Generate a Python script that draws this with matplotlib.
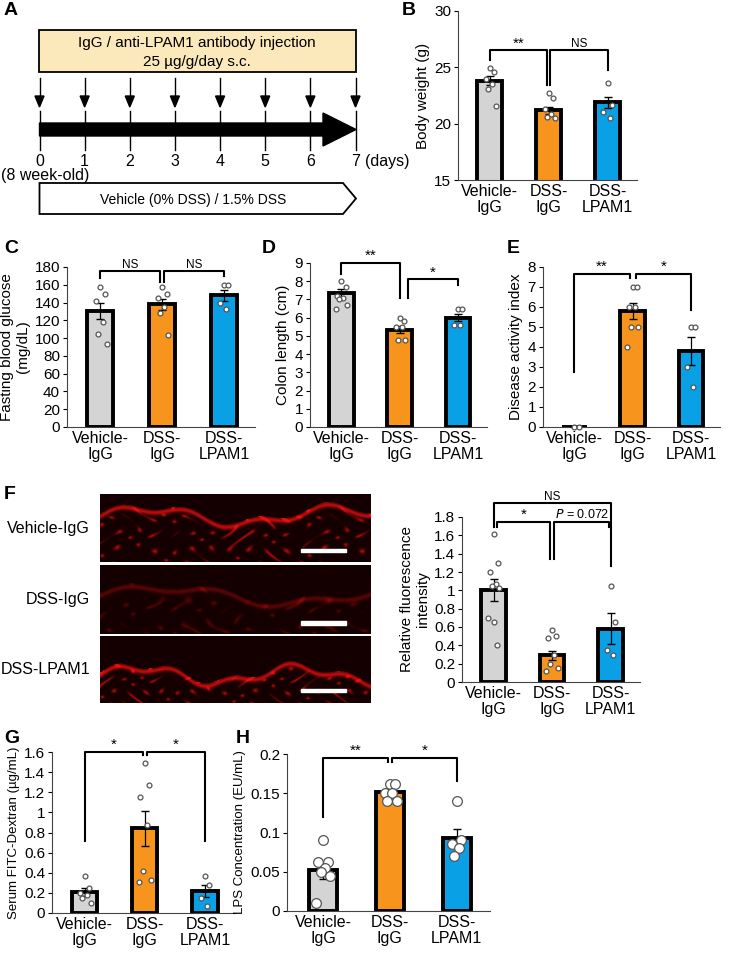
import numpy as np
import matplotlib
matplotlib.use("Agg")
import matplotlib.pyplot as plt
from matplotlib.patches import Polygon, Rectangle

plt.rcParams["font.family"] = "Liberation Sans"
W, H = 738, 958
fig = plt.figure(figsize=(W/100, H/100), dpi=100)

groups = ["Vehicle-\nIgG", "DSS-\nIgG", "DSS-\nLPAM1"]
colors = ["#d4d4d4", "#f7941d", "#0aa0e6"]

# data
bw_mean = [23.8, 21.2, 21.9]; bw_err = [0.4, 0.3, 0.5]
bw_pts = [[24.9, 24.6, 24.0, 23.5, 23.1, 21.6], [22.7, 22.3, 21.3, 20.9, 20.6, 20.5], [23.6, 21.7, 21.0, 20.5]]
glu_mean = [131, 138, 148]; glu_err = [9, 6, 6]
glu_pts = [[157, 150, 142, 118, 105, 93], [157, 150, 145, 135, 128, 103], [160, 160, 140, 133]]
col_mean = [7.35, 5.35, 6.0]; col_err = [0.2, 0.2, 0.2]
col_pts = [[8.0, 7.7, 7.2, 7.1, 7.0, 6.7, 6.5], [6.0, 5.8, 5.5, 5.5, 4.8, 4.8], [6.5, 6.5, 5.6, 5.6]]
dai_mean = [0, 5.8, 3.8]; dai_err = [0, 0.4, 0.7]
dai_pts = [[0, 0], [7, 7, 6, 6, 5, 5, 4], [5, 5, 3, 2]]
fl_mean = [1.0, 0.29, 0.58]; fl_err = [0.12, 0.05, 0.17]
fl_pts = [[1.62, 1.3, 1.2, 1.07, 1.05, 1.03, 0.7, 0.65, 0.4], [0.57, 0.5, 0.48, 0.3, 0.2, 0.15, 0.12], [1.05, 0.65, 0.35, 0.3]]
fitc_mean = [0.21, 0.84, 0.22]; fitc_err = [0.04, 0.17, 0.06]
fitc_pts = [[0.37, 0.25, 0.2, 0.18, 0.15, 0.1], [1.49, 1.27, 1.15, 0.87, 0.42, 0.33, 0.31], [0.37, 0.28, 0.15, 0.07]]
lps_mean = [0.052, 0.151, 0.093]; lps_err = [0.011, 0.003, 0.011]
lps_pts = [[0.09, 0.062, 0.062, 0.055, 0.05, 0.045, 0.01], [0.162, 0.162, 0.15, 0.15, 0.14, 0.14], [0.14, 0.09, 0.085, 0.08, 0.07]]
days = [0, 1, 2, 3, 4, 5, 6, 7]

def ax_px(l, t, r, b):
    return fig.add_axes([l/W, 1-b/H, (r-l)/W, (b-t)/H])

def letter(x, y, s):
    fig.text(x/W, 1-y/H, s, fontsize=14, fontweight="bold", va="top", ha="left")

offs = [0, 0.07, -0.07, 0.035, -0.035, 0.1, -0.1, 0.0, 0.05]

def barplot(ax, mean, err, pts, ylim, ticks, ylabel, ms=3.5, tl=None, ylfs=11):
    x = np.arange(3)
    ax.bar(x, mean, width=0.42, color=colors, edgecolor="black", linewidth=2.8, zorder=2)
    ax.errorbar(x, mean, yerr=err, fmt="none", ecolor="black", elinewidth=0.9, capsize=3, zorder=3)
    for i, p in enumerate(pts):
        ax.plot([i + offs[j % len(offs)] for j in range(len(p))], p, "o", ms=ms, mfc="white",
                mec="#555555", mew=0.9, zorder=4, clip_on=False)
    ax.set_ylim(*ylim); ax.set_xlim(-0.54, 2.5)
    ax.set_yticks(ticks)
    if tl: ax.set_yticklabels(tl)
    ax.set_xticks(x); ax.set_xticklabels(groups, fontsize=11.5, linespacing=1.05)
    ax.set_ylabel(ylabel, fontsize=ylfs, labelpad=3)
    for s in ["top", "right"]: ax.spines[s].set_visible(False)
    ax.spines["left"].set_color("#444444"); ax.spines["bottom"].set_color("#444444")
    ax.tick_params(axis="x", length=0, pad=3)
    ax.tick_params(axis="y", labelsize=11, length=3, pad=2)

def bracket(ax, x1, x2, y, l1, l2, txt, fs=11):
    ax.plot([x1, x1, x2, x2], [l1, y, y, l2], color="black", lw=1.5, clip_on=False, zorder=5)
    if txt:
        ax.text((x1+x2)/2, y, txt, ha="center", va="bottom", fontsize=fs, clip_on=False)

# ---- A ----
letter(4, 2, "A")
axA = fig.add_axes([0, 0, 1, 1]); axA.set_xlim(0, W); axA.set_ylim(H, 0); axA.axis("off")
axA.add_patch(Rectangle((39, 30), 317, 42, facecolor="#fbe8bb", edgecolor="black", lw=1.3))
axA.text(197, 43, "IgG / anti-LPAM1 antibody injection", ha="center", va="center", fontsize=11)
axA.text(197, 62, "25 µg/g/day s.c.", ha="center", va="center", fontsize=11)
x0, dx = 39.5, (355.5 - 39.5) / 7
for d in days:
    xx = x0 + d*dx
    axA.plot([xx, xx], [78, 97], color="black", lw=1)
    axA.add_patch(Polygon([[xx-4.5, 96], [xx+4.5, 96], [xx, 107]], closed=True, color="black"))
    axA.plot([xx, xx], [111, 150], color="black", lw=1)
    axA.text(xx, 161, str(d), ha="center", va="center", fontsize=11.5)
axA.text(x0 + 7*dx + 9, 161, "(days)", ha="left", va="center", fontsize=11.5)
axA.text(1, 175, "(8 week-old)", ha="left", va="center", fontsize=11.5)
axA.add_patch(Polygon([[39.5, 123], [323, 123], [323, 113], [356, 129.5], [323, 146], [323, 136], [39.5, 136]], closed=True, color="black"))
axA.add_patch(Polygon([[39.5, 183], [343, 183], [356, 198.5], [343, 214], [39.5, 214]], closed=True, facecolor="white", edgecolor="black", lw=1.3))
axA.text(193, 200, "Vehicle (0% DSS) / 1.5% DSS", ha="center", va="center", fontsize=10)

# ---- B ----
letter(402, 2, "B")
axB = ax_px(458, 11, 637, 180)
barplot(axB, bw_mean, bw_err, bw_pts, (15, 30), [15, 20, 25, 30], "Body weight (g)")
bracket(axB, 0, 0.97, 26.5, 25.65, 23.4, "**")
bracket(axB, 1.03, 2, 26.5, 23.4, 24.8, "NS", fs=8.5)

# ---- C ----
letter(4, 240, "C")
axC = ax_px(67, 267, 255, 427)
barplot(axC, glu_mean, glu_err, glu_pts, (0, 180), list(range(0, 181, 20)), "Fasting blood glucose\n(mg/dL)")
bracket(axC, 0, 0.97, 175, 168, 163, "NS", fs=8.5)
bracket(axC, 1.03, 2, 175, 163, 170, "NS", fs=8.5)

# ---- D ----
letter(262, 240, "D")
axD = ax_px(310, 263, 487, 427)
barplot(axD, col_mean, col_err, col_pts, (0, 9), list(range(0, 10)), "Colon length (cm)")
bracket(axD, 0, 1, 9.0, 8.4, 7.1, "**")
bracket(axD, 1.15, 2, 8.1, 7.1, 7.8, "*")

# ---- E ----
letter(507, 240, "E")
axE = ax_px(543, 267, 720, 427)
barplot(axE, dai_mean, dai_err, dai_pts, (0, 8), list(range(0, 9)), "Disease activity index")
bracket(axE, 0, 0.95, 7.65, 2.75, 7.45, "**")
bracket(axE, 1.05, 2, 7.65, 7.45, 5.85, "*")

# ---- F ----
letter(4, 486, "F")
yy, xx_ = np.mgrid[0:68, 0:271]
def tex(a, b, c, amp, base):
    z = (np.sin(xx_/a + np.sin(yy/7.0)*2) * np.cos(yy/b + np.sin(xx_/11.0)*2)) ** 8
    edge = base - 8*np.sin(xx_/c) - 4*np.sin(xx_/(c*0.37))
    ridge = np.exp(-((yy - edge) / 2.5) ** 2)
    v = np.clip(amp*z*0.8 + ridge*amp*0.9, 0, 1)
    v[yy < edge - 3] = 0
    img = np.zeros((68, 271, 3)); img[..., 0] = 0.08 + 0.85*v; img[..., 1] = 0.06*v; img[..., 2] = 0.06*v
    return img
imgs = [tex(6, 5, 30, 0.85, 22), tex(9, 8, 40, 0.35, 30), tex(5, 4, 25, 0.85, 40)]
names = ["Vehicle-IgG", "DSS-IgG", "DSS-LPAM1"]
tops = [(494, 562), (565, 634), (636, 703)]
for im, nm, (t, b) in zip(imgs, names, tops):
    a = ax_px(100, t, 371, b)
    a.imshow(im, aspect="auto", interpolation="bilinear")
    a.add_patch(Rectangle((200, b - t - 14), 45, 3.5, color="white"))
    a.axis("off")
    fig.text(90/W, 1-((t+b)/2)/H, nm, fontsize=11.5, ha="right", va="center")
axF = ax_px(462, 517, 640, 682)
barplot(axF, fl_mean, fl_err, fl_pts, (0, 1.8), [0, 0.2, 0.4, 0.6, 0.8, 1, 1.2, 1.4, 1.6, 1.8], "Relative fluorescence\nintensity",
        tl=["0", "0.2", "0.4", "0.6", "0.8", "1", "1.2", "1.4", "1.6", "1.8"])
bracket(axF, 0, 2, 1.95, 1.69, 1.27, "NS", fs=8.5)
bracket(axF, 0.05, 0.97, 1.745, 1.69, 1.34, "*")
bracket(axF, 1.03, 1.97, 1.745, 1.34, 1.69, "")
axF.text(1.97, 1.76, "$P$ = 0.072", ha="right", va="bottom", fontsize=9)

# ---- G ----
letter(4, 730, "G")
axG = ax_px(52, 752, 235, 913)
barplot(axG, fitc_mean, fitc_err, fitc_pts, (0, 1.6), [0, 0.2, 0.4, 0.6, 0.8, 1, 1.2, 1.4, 1.6], "Serum FITC-Dextran (µg/mL)",
        tl=["0", "0.2", "0.4", "0.6", "0.8", "1", "1.2", "1.4", "1.6"], ylfs=9.5)

bracket(axG, 0, 0.97, 1.6, 0.72, 1.57, "*")
bracket(axG, 1.03, 2, 1.6, 1.57, 0.72, "*")

# ---- H ----
letter(236, 730, "H")
axH = ax_px(287, 754, 490, 911)
barplot(axH, lps_mean, lps_err, lps_pts, (0, 0.2), [0, 0.05, 0.1, 0.15, 0.2], "LPS Concentration (EU/mL)", ms=7,
        tl=["0", "0.05", "0.1", "0.15", "0.2"], ylfs=9.5)
bracket(axH, 0, 0.97, 0.195, 0.12, 0.19, "**")
bracket(axH, 1.03, 2, 0.195, 0.19, 0.165, "*")

fig.savefig("out.png", dpi=100)
